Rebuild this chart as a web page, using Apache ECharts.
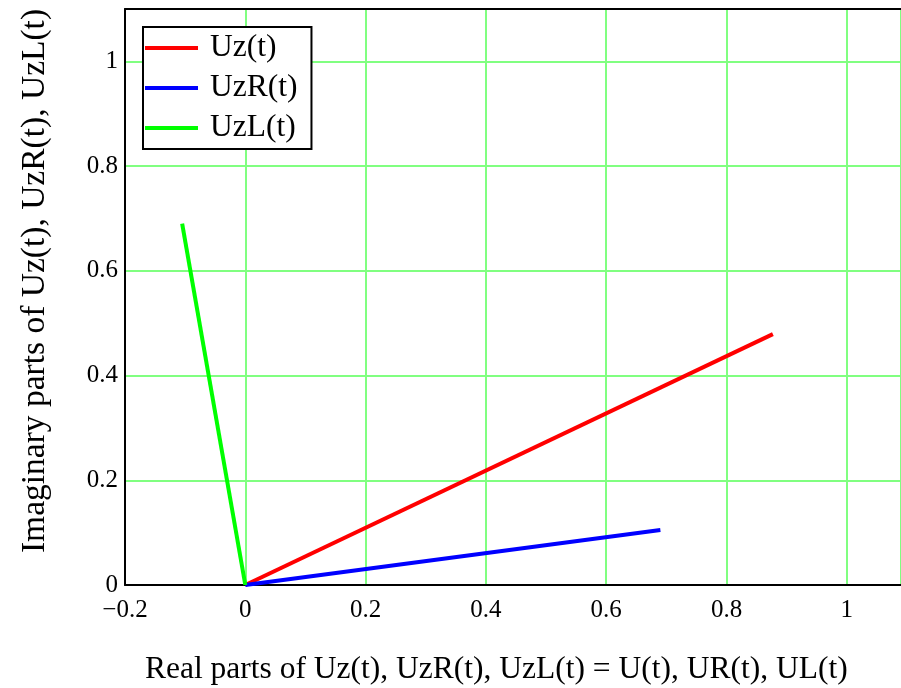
<!DOCTYPE html>
<html><head><meta charset="utf-8">
<script src="https://cdn.jsdelivr.net/npm/echarts@6/dist/echarts.min.js"></script>
<style>html,body{margin:0;padding:0;background:#fff}#c{width:901px;height:688px}</style>
</head><body><div id="c"></div>
<script>
const seriesNames = ['Uz(t)', 'UzR(t)', 'UzL(t)'];
const uzX = [0, 0.877];
const uzY = [0, 0.479];
const uzrX = [0, 0.69];
const uzrY = [0, 0.105];
const uzlX = [0, -0.105];
const uzlY = [0, 0.69];
const colors = ['#ff0000', '#0000ff', '#00ff00'];
const xTitle = 'Real parts of Uz(t), UzR(t), UzL(t) = U(t), UR(t), UL(t)';
const yTitle = 'Imaginary parts of Uz(t), UzR(t), UzL(t)';

const FONT = "'Liberation Serif', 'Times New Roman', serif";
const pairs = (xs, ys) => xs.map((x, i) => [x, ys[i]]);
const fmt = v => {
  const r = Math.round(v * 100) / 100;
  if (Math.abs(r * 5 - Math.round(r * 5)) > 1e-6) return '';
  if (r === 0) return '0';
  return (r < 0 ? '\u2212' : '') + String(Math.abs(r));
};

const chart = echarts.init(document.getElementById('c'), null, {renderer: 'canvas'});
chart.setOption({
  animation: false,
  backgroundColor: '#fff',
  grid: {left: 125, top: 9, right: 0, bottom: 103, containLabel: false},
  xAxis: [{
    type: 'value', min: -0.2, max: 1.09, interval: 0.2, position: 'bottom',
    axisLine: {show: true, onZero: false, lineStyle: {color: '#000', width: 2}},
    axisTick: {show: false},
    axisLabel: {showMaxLabel: false, margin: 13, color: '#000', fontFamily: FONT, fontSize: 25, formatter: fmt},
    splitLine: {show: true, lineStyle: {color: '#80ff80', width: 2}}
  }, {
    type: 'value', min: -0.2, max: 1.09, position: 'top',
    axisLine: {show: true, onZero: false, lineStyle: {color: '#000', width: 2}},
    axisTick: {show: false}, axisLabel: {show: false}, splitLine: {show: false}
  }],
  yAxis: {
    type: 'value', min: 0, max: 1.1, interval: 0.2,
    axisLine: {show: true, onZero: false, lineStyle: {color: '#000', width: 2}},
    axisTick: {show: false},
    axisLabel: {showMaxLabel: false, margin: 7, color: '#000', fontFamily: FONT, fontSize: 25, formatter: fmt},
    splitLine: {show: true, lineStyle: {color: '#80ff80', width: 2}}
  },
  legend: {
    orient: 'vertical', left: 143, top: 27,
    data: seriesNames,
    icon: 'rect', itemWidth: 53, itemHeight: 4, itemGap: 8,
    padding: [5, 14, 5, 2],
    backgroundColor: '#fff', borderColor: '#000', borderWidth: 2, borderRadius: 0,
    textStyle: {fontFamily: FONT, fontSize: 31.5, color: '#000', padding: [0, 0, 0, 7]}
  },
  graphic: [
    {type: 'text', x: 145, y: 654, style: {text: xTitle, font: '31.5px ' + FONT, fill: '#000'}},
    {type: 'text', x: 35, y: 281, rotation: Math.PI / 2,
     style: {text: yTitle, font: '33.5px ' + FONT, fill: '#000', textAlign: 'center', textVerticalAlign: 'middle'}}
  ],
  series: [
    {name: seriesNames[0], type: 'line', data: pairs(uzX, uzY), showSymbol: false, lineStyle: {color: colors[0], width: 4}, itemStyle: {color: colors[0]}, z: 3},
    {name: seriesNames[1], type: 'line', data: pairs(uzrX, uzrY), showSymbol: false, lineStyle: {color: colors[1], width: 4}, itemStyle: {color: colors[1]}, z: 3},
    {name: seriesNames[2], type: 'line', data: pairs(uzlX, uzlY), showSymbol: false, lineStyle: {color: colors[2], width: 4}, itemStyle: {color: colors[2]}, z: 3}
  ]
});
</script></body></html>
